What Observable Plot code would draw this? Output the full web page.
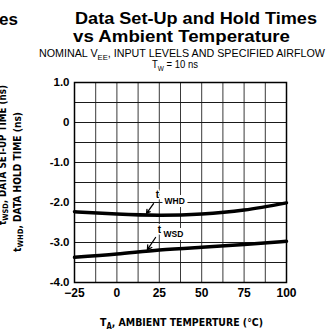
<!DOCTYPE html>
<html>
<head>
<meta charset="utf-8">
<script src="https://cdn.jsdelivr.net/npm/d3@7"></script>
<script src="https://cdn.jsdelivr.net/npm/@observablehq/plot@0.6"></script>
<style>
  html, body { margin: 0; padding: 0; background: white; }
  #chart { width: 326px; height: 332px; overflow: hidden; }
</style>
</head>
<body>
<div id="chart"></div>
<script>
// ---- data ----
const temps = [-25, 0, 25, 50, 75, 100];
const tWHD = [-2.23, -2.29, -2.32, -2.29, -2.19, -2.01];
const tWSD = [-3.37, -3.29, -3.19, -3.12, -3.05, -2.97];
const xTicks = [-25, 0, 25, 50, 75, 100];
const yTicks = [1, 0, -1, -2, -3, -4];
const xGrid = [-25, -12.5, 0, 12.5, 25, 37.5, 50, 62.5, 75, 87.5, 100];
const yGrid = [1, 0.5, 0, -0.5, -1, -1.5, -2, -2.5, -3, -3.5, -4];
const seriesNames = ["WHD", "WSD"];
const labelT = [23.9, 25.1];
const labelTy = [-1.80, -2.675];
const labelSubX = [28.1, 27.5];
const labelSubY = [-1.975, -2.80];
const arrowFromX = [21.6, 22.8];
const arrowFromY = [-2.03, -2.875];
const arrowToX = [17.5, 18.0];
const arrowToY = [-2.27, -3.18];

const rows = [];
temps.forEach((t, i) => {
  rows.push({series: "WHD", T: t, v: tWHD[i]});
  rows.push({series: "WSD", T: t, v: tWSD[i]});
});
const ann = seriesNames.map((s, i) => ({
  s, tx: labelT[i], ty: labelTy[i], sx: labelSubX[i], sy: labelSubY[i],
  x1: arrowFromX[i], y1: arrowFromY[i], x2: arrowToX[i], y2: arrowToY[i]
}));

const font = "'Liberation Sans', Arial, Helvetica, sans-serif";

const plot = Plot.plot({
  width: 326,
  height: 332,
  marginLeft: 74,
  marginRight: 40,
  marginTop: 82,
  marginBottom: 50,
  style: {fontFamily: font, background: "white", color: "black", overflow: "visible"},
  x: {domain: [-25, 100]},
  y: {domain: [-4, 1]},
  marks: [
    Plot.ruleX(xGrid, {stroke: "#3a3a3a", strokeWidth: 1}),
    Plot.ruleY(yGrid, {stroke: "#1a1a1a", strokeWidth: 1}),
    Plot.axisX(xTicks, {tickSize: 0, tickPadding: 6, fontSize: 12, fontWeight: "bold", label: null}),
    Plot.axisY(yTicks, {tickSize: 0, tickPadding: 5, fontSize: 11.5, fontWeight: "bold", label: null,
      tickFormat: d => d === 0 ? "0" : d.toFixed(1)}),
    Plot.frame({stroke: "black", strokeWidth: 1.5}),
    Plot.line(rows, {x: "T", y: "v", z: "series", curve: "natural", stroke: "black", strokeWidth: 3.5}),
    Plot.text(ann, {x: "sx", y: "sy", text: "s", textAnchor: "start", fontSize: 8.5, fontWeight: "bold",
      fill: "black", stroke: "white", strokeWidth: 6}),
    Plot.text(ann, {x: "tx", y: "ty", text: () => "t", fontSize: 10, fontWeight: "bold",
      fill: "black", stroke: "white", strokeWidth: 3}),
    Plot.arrow(ann, {x1: "x1", y1: "y1", x2: "x2", y2: "y2", stroke: "black", strokeWidth: 1.3, headLength: 6, bend: false})
  ]
});

document.getElementById("chart").appendChild(plot);

// ---- titles & labels ----
const svg = d3.select(plot);
function addText(opts) {
  const t = svg.append("text")
    .attr("x", opts.x).attr("y", opts.y)
    .attr("font-family", opts.family || font)
    .attr("font-size", opts.size)
    .attr("font-weight", opts.weight || "normal")
    .attr("text-anchor", opts.anchor || "start")
    .attr("fill", "black");
  if (opts.transform) t.attr("transform", opts.transform);
  if (opts.len) t.attr("textLength", opts.len).attr("lengthAdjust", "spacingAndGlyphs");
  opts.parts.forEach(p => {
    const ts = t.append("tspan").text(p.text);
    if (p.sub) ts.attr("font-size", p.sub).attr("dy", p.dy || 3);
    if (p.reset) ts.attr("dy", p.reset);
  });
  return t;
}

addText({x: -1, y: 25, size: 17, weight: "bold", parts: [{text: "es"}]});
addText({x: 75, y: 24, size: 17, weight: "bold", len: 242, parts: [{text: "Data Set-Up and Hold Times"}]});
addText({x: 73, y: 42, size: 17, weight: "bold", len: 217, parts: [{text: "vs Ambient Temperature"}]});
addText({x: 39, y: 57, size: 10.5, len: 286, parts: [
  {text: "NOMINAL V"}, {text: "EE", sub: 7.5, dy: 2.5}, {text: ", INPUT LEVELS AND SPECIFIED AIRFLOW", reset: -2.5}
]});
addText({x: 152, y: 68, size: 11, len: 46, parts: [
  {text: "T"}, {text: "W", sub: 7.5, dy: 2.5}, {text: " = 10 ns", reset: -2.5}
]});
addText({x: 100, y: 326, size: 11, weight: "bold", len: 163, family: "'DejaVu Sans Condensed', 'Liberation Sans Narrow', sans-serif", parts: [
  {text: "T"}, {text: "A", sub: 8, dy: 3}, {text: ", AMBIENT TEMPERTURE (°C)", reset: -3}
]});
addText({x: 0, y: 0, size: 10, weight: "bold", len: 140, anchor: "middle",
  family: "'DejaVu Sans Condensed', 'Liberation Sans Narrow', sans-serif",
  transform: "translate(6,155) rotate(-90)", parts: [
  {text: "t"}, {text: "WSD", sub: 7.5, dy: 2}, {text: ", DATA SET-UP TIME (ns)", reset: -2}
]});
addText({x: 0, y: 0, size: 10, weight: "bold", len: 140, anchor: "middle",
  family: "'DejaVu Sans Condensed', 'Liberation Sans Narrow', sans-serif",
  transform: "translate(21,182) rotate(-90)", parts: [
  {text: "t"}, {text: "WHD", sub: 7.5, dy: 2}, {text: ", DATA HOLD TIME (ns)", reset: -2}
]});
</script>
</body>
</html>
